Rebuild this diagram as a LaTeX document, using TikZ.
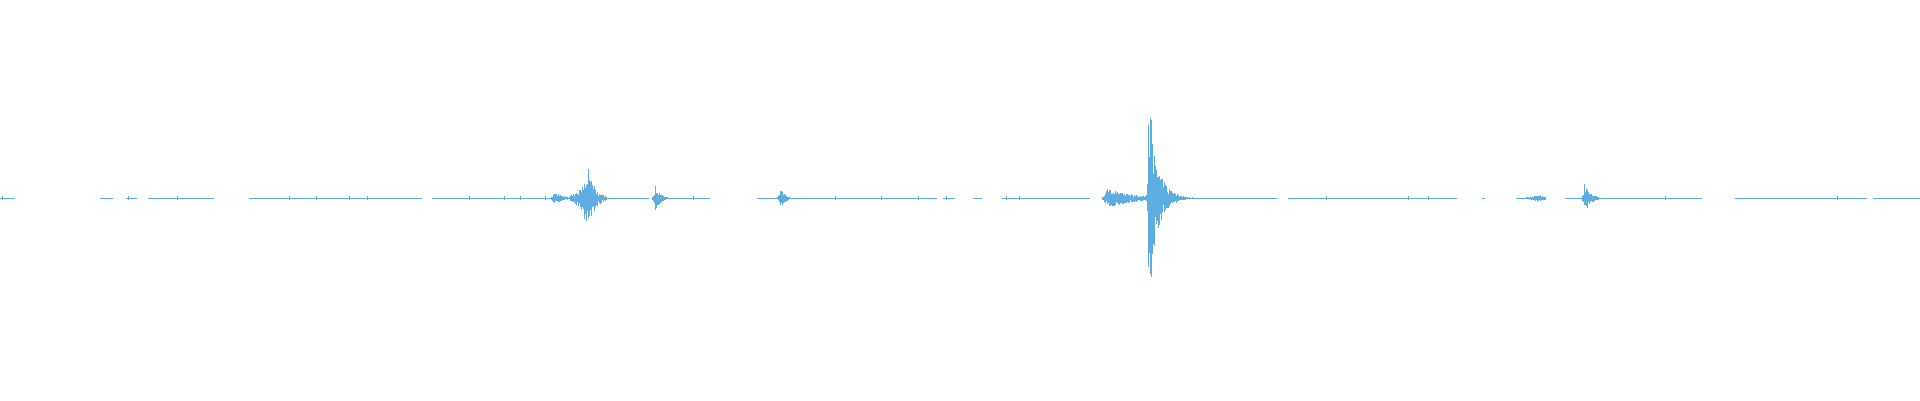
\documentclass[tikz,border=0pt]{standalone}
\begin{document}
\begin{tikzpicture}[x=1.2245pt,y=1.2245pt]
\definecolor{wave}{RGB}{93,173,226}
\tikzset{base/.style={draw=wave,line width=0.9pt},spike/.style={draw=wave,line width=0.45pt}}
\useasboundingbox (0,0) rectangle (1568,326.7);
\def\cy{164.7}
\pgfmathsetseed{7}
% baseline segments
\foreach \a/\b in {0/12,82/92,103/112,121/175,203/345,353/440,440/470,492/530,540/580,618/634,640/765,770/780,795/802,818/890,935/937,985/1043,1052/1190,1210/1213,1238/1262,1278/1290,1298/1390,1417/1525,1530/1568}
  \draw[base] (\a,\cy) -- (\b,\cy);
% small noise bumps
\foreach \x in {2,105,145,236,258,285,300,383,412,425,445,566,682,720,750,773,822,832,1083,1150,1166,1255,1360,1500}
  \draw[spike] (\x,\cy-1.6) -- (\x,\cy+1.6);
% burst macro: start, end, peak, amp, rise, decay
\newcommand{\wburst}[6]{%
  \foreach \x in {#1,#1.5,...,#2}{%
    \pgfmathsetmacro{\d}{\x-#3}%
    \pgfmathsetmacro{\k}{\d<0?#5:#6}%
    \pgfmathsetmacro{\env}{#4*exp(-abs(\d)/\k)}%
    \pgfmathsetmacro{\r}{0.35+0.65*rnd}%
    \pgfmathsetmacro{\s}{0.35+0.65*rnd}%
    \draw[spike] (\x,\cy+\env*\r) -- (\x,\cy-\env*\s);}}
\wburst{450}{466}{453}{6}{2}{6}
\wburst{466}{495}{480}{26}{6}{6}
\wburst{533}{545}{535}{11}{1}{4}
\wburst{634}{645}{637}{9}{1}{4}
\wburst{900}{935}{904}{8}{2}{25}
\wburst{936}{990}{938.5}{64}{1}{8}
\draw[spike] (938,\cy+60) -- (938,\cy-56);
\draw[spike] (939,\cy+66) -- (939,\cy-62);
\draw[spike] (940.5,\cy+64) -- (940.5,\cy-64);
\wburst{1290}{1310}{1294}{12}{1}{5}
\wburst{1238}{1262}{1256}{3}{8}{8}
\end{tikzpicture}
\end{document}
